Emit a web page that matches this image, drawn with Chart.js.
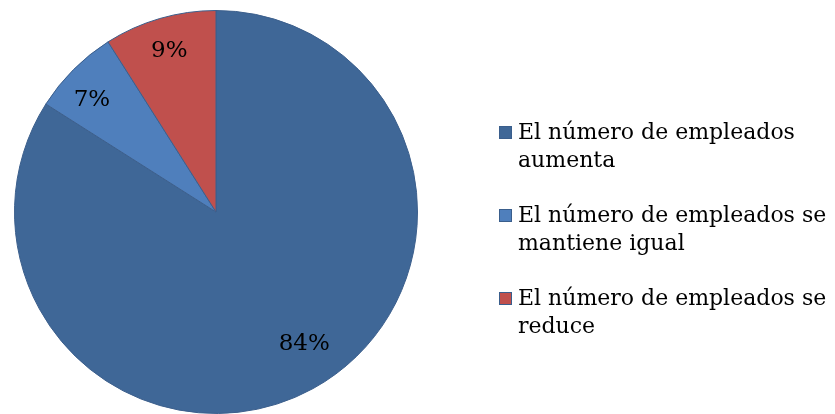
<!DOCTYPE html>
<html>
<head>
<meta charset="utf-8">
<script src="https://cdn.jsdelivr.net/npm/chart.js@4/dist/chart.umd.min.js"></script>
<style>
  html, body { margin: 0; padding: 0; background: #fff; }
  #wrap { position: relative; width: 835px; height: 414px; }
  #legend { position: absolute; left: 499px; top: 118px; font-family: "DejaVu Serif", serif; font-size: 22px; color: #000; white-space: nowrap; }
  .item { position: relative; padding-left: 19px; line-height: 28px; margin-bottom: 27px; }
  .box { position: absolute; left: 0; top: 8px; width: 11px; height: 11px; border: 1px solid #3A5E8C; }
</style>
</head>
<body>
<div id="wrap">
  <canvas id="pie" width="835" height="414"></canvas>
  <div id="legend"></div>
</div>
<script>
var labels = ["El número de empleados aumenta", "El número de empleados se mantiene igual", "El número de empleados se reduce"];
var legendLines = [["El número de empleados", "aumenta"], ["El número de empleados se", "mantiene igual"], ["El número de empleados se", "reduce"]];
var valores = [84, 7, 9];
var colores = ["#3F6797", "#4F7FBC", "#C0504D"];

var etiquetas = {
	id: 'etiquetas',
	afterDatasetsDraw: function(chart) {
		var ctx = chart.ctx;
		var meta = chart.getDatasetMeta(0);
		ctx.save();
		ctx.font = '23px "DejaVu Serif"';
		ctx.fillStyle = '#000';
		ctx.textAlign = 'center';
		ctx.textBaseline = 'middle';
		meta.data.forEach(function(arc, i) {
			var p = arc.getProps(['x', 'y', 'startAngle', 'endAngle', 'outerRadius']);
			var mid = (p.startAngle + p.endAngle) / 2;
			// el 84% va un poco desplazado como en el original
			if (i == 0) mid -= 0.085;
			if (i == 1) mid -= 0.05;
			var r = p.outerRadius * (i == 0 ? 0.79 : 0.83);
			ctx.fillText(valores[i] + '%', p.x + Math.cos(mid) * r, p.y + Math.sin(mid) * r);
		});
		ctx.restore();
	}
};

var chart = new Chart(document.getElementById("pie"), {
	type: 'pie',
	data: {
		labels: labels,
		datasets: [{
			data: valores,
			backgroundColor: colores,
			borderColor: "#3C5F8C",
			borderWidth: 1
		}]
	},
	options: {
		responsive: false,
		animation: false,
		layout: { padding: { left: 14, top: 10, right: 417, bottom: 0 } },
		plugins: {
			legend: { display: false },
			tooltip: { enabled: false }
		}
	},
	plugins: [etiquetas]
});

var leg = document.getElementById("legend");
legendLines.forEach(function(lines, i) {
	var d = document.createElement("div");
	d.className = "item";
	d.innerHTML = '<span class="box" style="background:' + colores[i] + '"></span>' + lines.join('<br>');
	leg.appendChild(d);
});
</script>
</body>
</html>
